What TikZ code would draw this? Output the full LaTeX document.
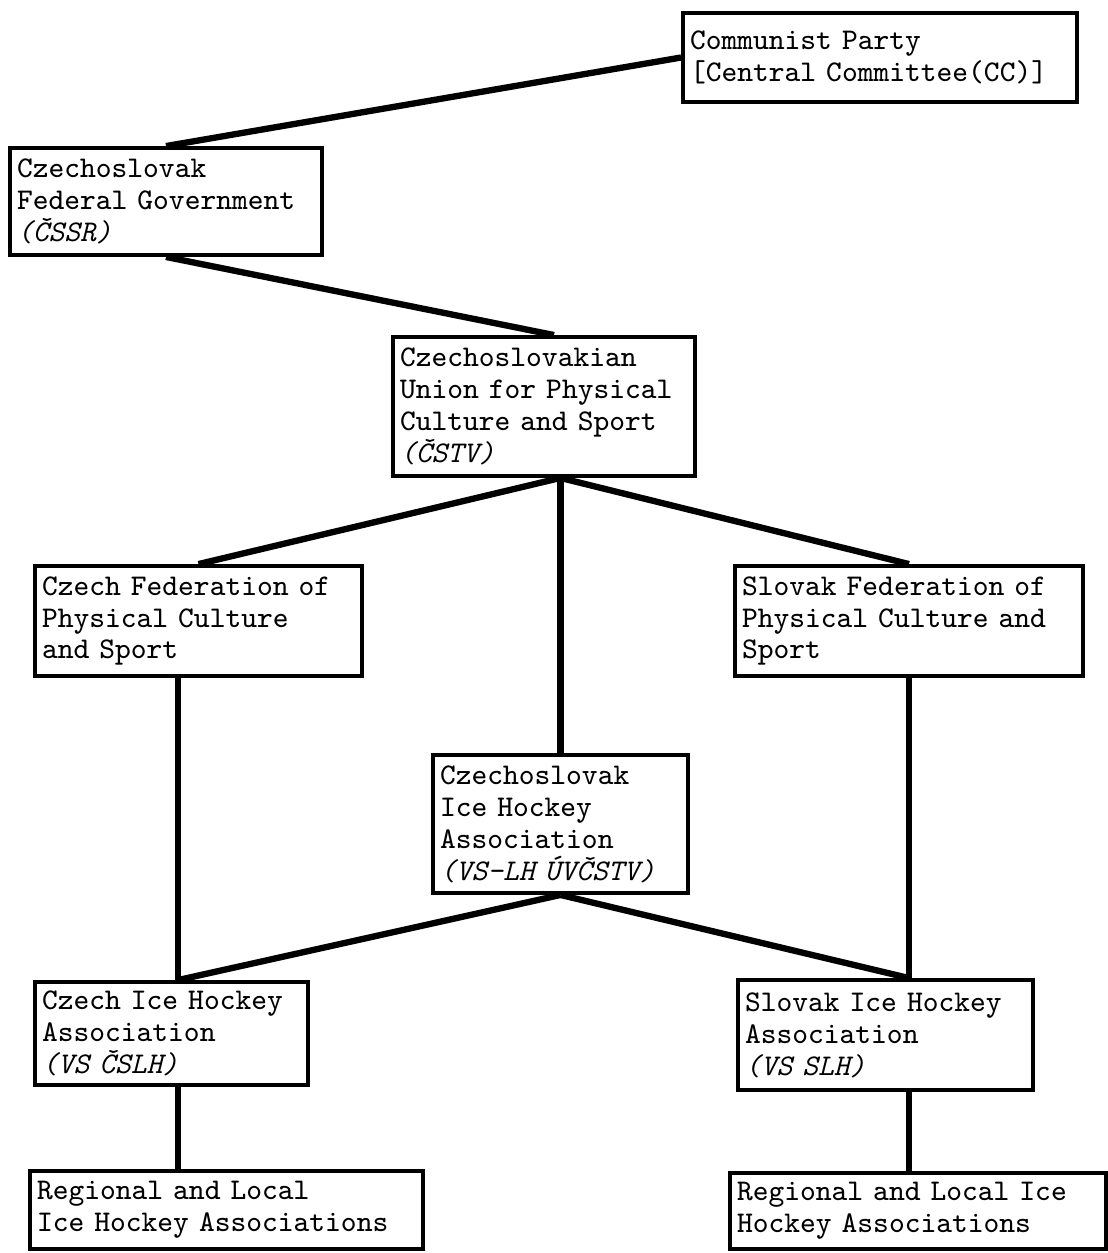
\documentclass[tikz,border=0pt]{standalone}
\usepackage{fontspec}
\usetikzlibrary{positioning,calc}

\begin{document}
\begin{tikzpicture}[
    font=\ttfamily\fontsize{8.55}{9.1}\selectfont,
    line width=1.8pt
  ]
\def\mg{.07cm}
\useasboundingbox (0,0) rectangle (11.07,-12.53);

\tikzstyle{org}=[draw,line width=1.1pt,inner xsep=\mg,inner ysep=0pt,align=left]

% top of the hierarchy
\node[org,text width=3.94cm-2*\mg,minimum height=.89cm] at (8.80,-0.575) (party) {Communist Party\\\relax[Central Committee(CC)]};
\node[org,text width=3.12cm-2*\mg,minimum height=1.07cm] at (1.66,-2.015) (gov) {Czechoslovak\\Federal Government\\\textit{(ČSSR)}};
\node[org,text width=3.02cm-2*\mg,minimum height=1.39cm] at (5.44,-4.065) (cstv) {Czechoslovakian\\Union for Physical\\Culture and Sport\\\textit{(ČSTV)}};

% federations
\node[org,text width=3.27cm-2*\mg,minimum height=1.10cm] at (1.985,-6.21) (czfed) {Czech Federation of\\Physical Culture\\and Sport};
\node[org,text width=3.48cm-2*\mg,minimum height=1.10cm] at (9.09,-6.21) (skfed) {Slovak Federation of\\Physical Culture and\\Sport};

% ice hockey
\node[org,text width=2.55cm-2*\mg,minimum height=1.38cm] at (5.605,-8.24) (ciha) {Czechoslovak\\Ice Hockey\\Association\\\textit{(VS-LH ÚVČSTV)}};
\node[org,text width=2.73cm-2*\mg,minimum height=1.03cm] at (1.715,-10.335) (cziha) {Czech Ice Hockey\\Association\\\textit{(VS ČSLH)}};
\node[org,text width=2.95cm-2*\mg,minimum height=1.10cm] at (8.855,-10.35) (skiha) {Slovak Ice Hockey\\Association\\\textit{(VS SLH)}};

% regional level
\node[org,text width=3.93cm-2*\mg,minimum height=.78cm] at (2.265,-12.10) (czreg) {Regional and Local\\Ice Hockey Associations};
\node[org,text width=3.76cm-2*\mg,minimum height=.76cm] at (9.18,-12.11) (skreg) {Regional and Local Ice\\Hockey Associations};

\coordinate (hub) at (ciha.north |- cstv.south);
\coordinate (czj) at ($ (cziha.north) + (.065,0) $);
\coordinate (skj) at (skfed.south |- skiha.north);

\draw (party.west) -- (gov.north);
\draw (gov.south) -- ($ (cstv.north) + (.1,0) $);
\draw (hub) -- (czfed.north);
\draw (hub) -- (skfed.north);
\draw (hub) -- (ciha.north);

\draw (czj |- czfed.south) -- (czj);
\draw (skfed.south) -- (skj);
\draw (ciha.south) -- (czj);
\draw (ciha.south) -- (skj);

\draw (czj |- cziha.south) -- (czj |- czreg.north);
\draw (skj |- skiha.south) -- (skj |- skreg.north);

\end{tikzpicture}
\end{document}
